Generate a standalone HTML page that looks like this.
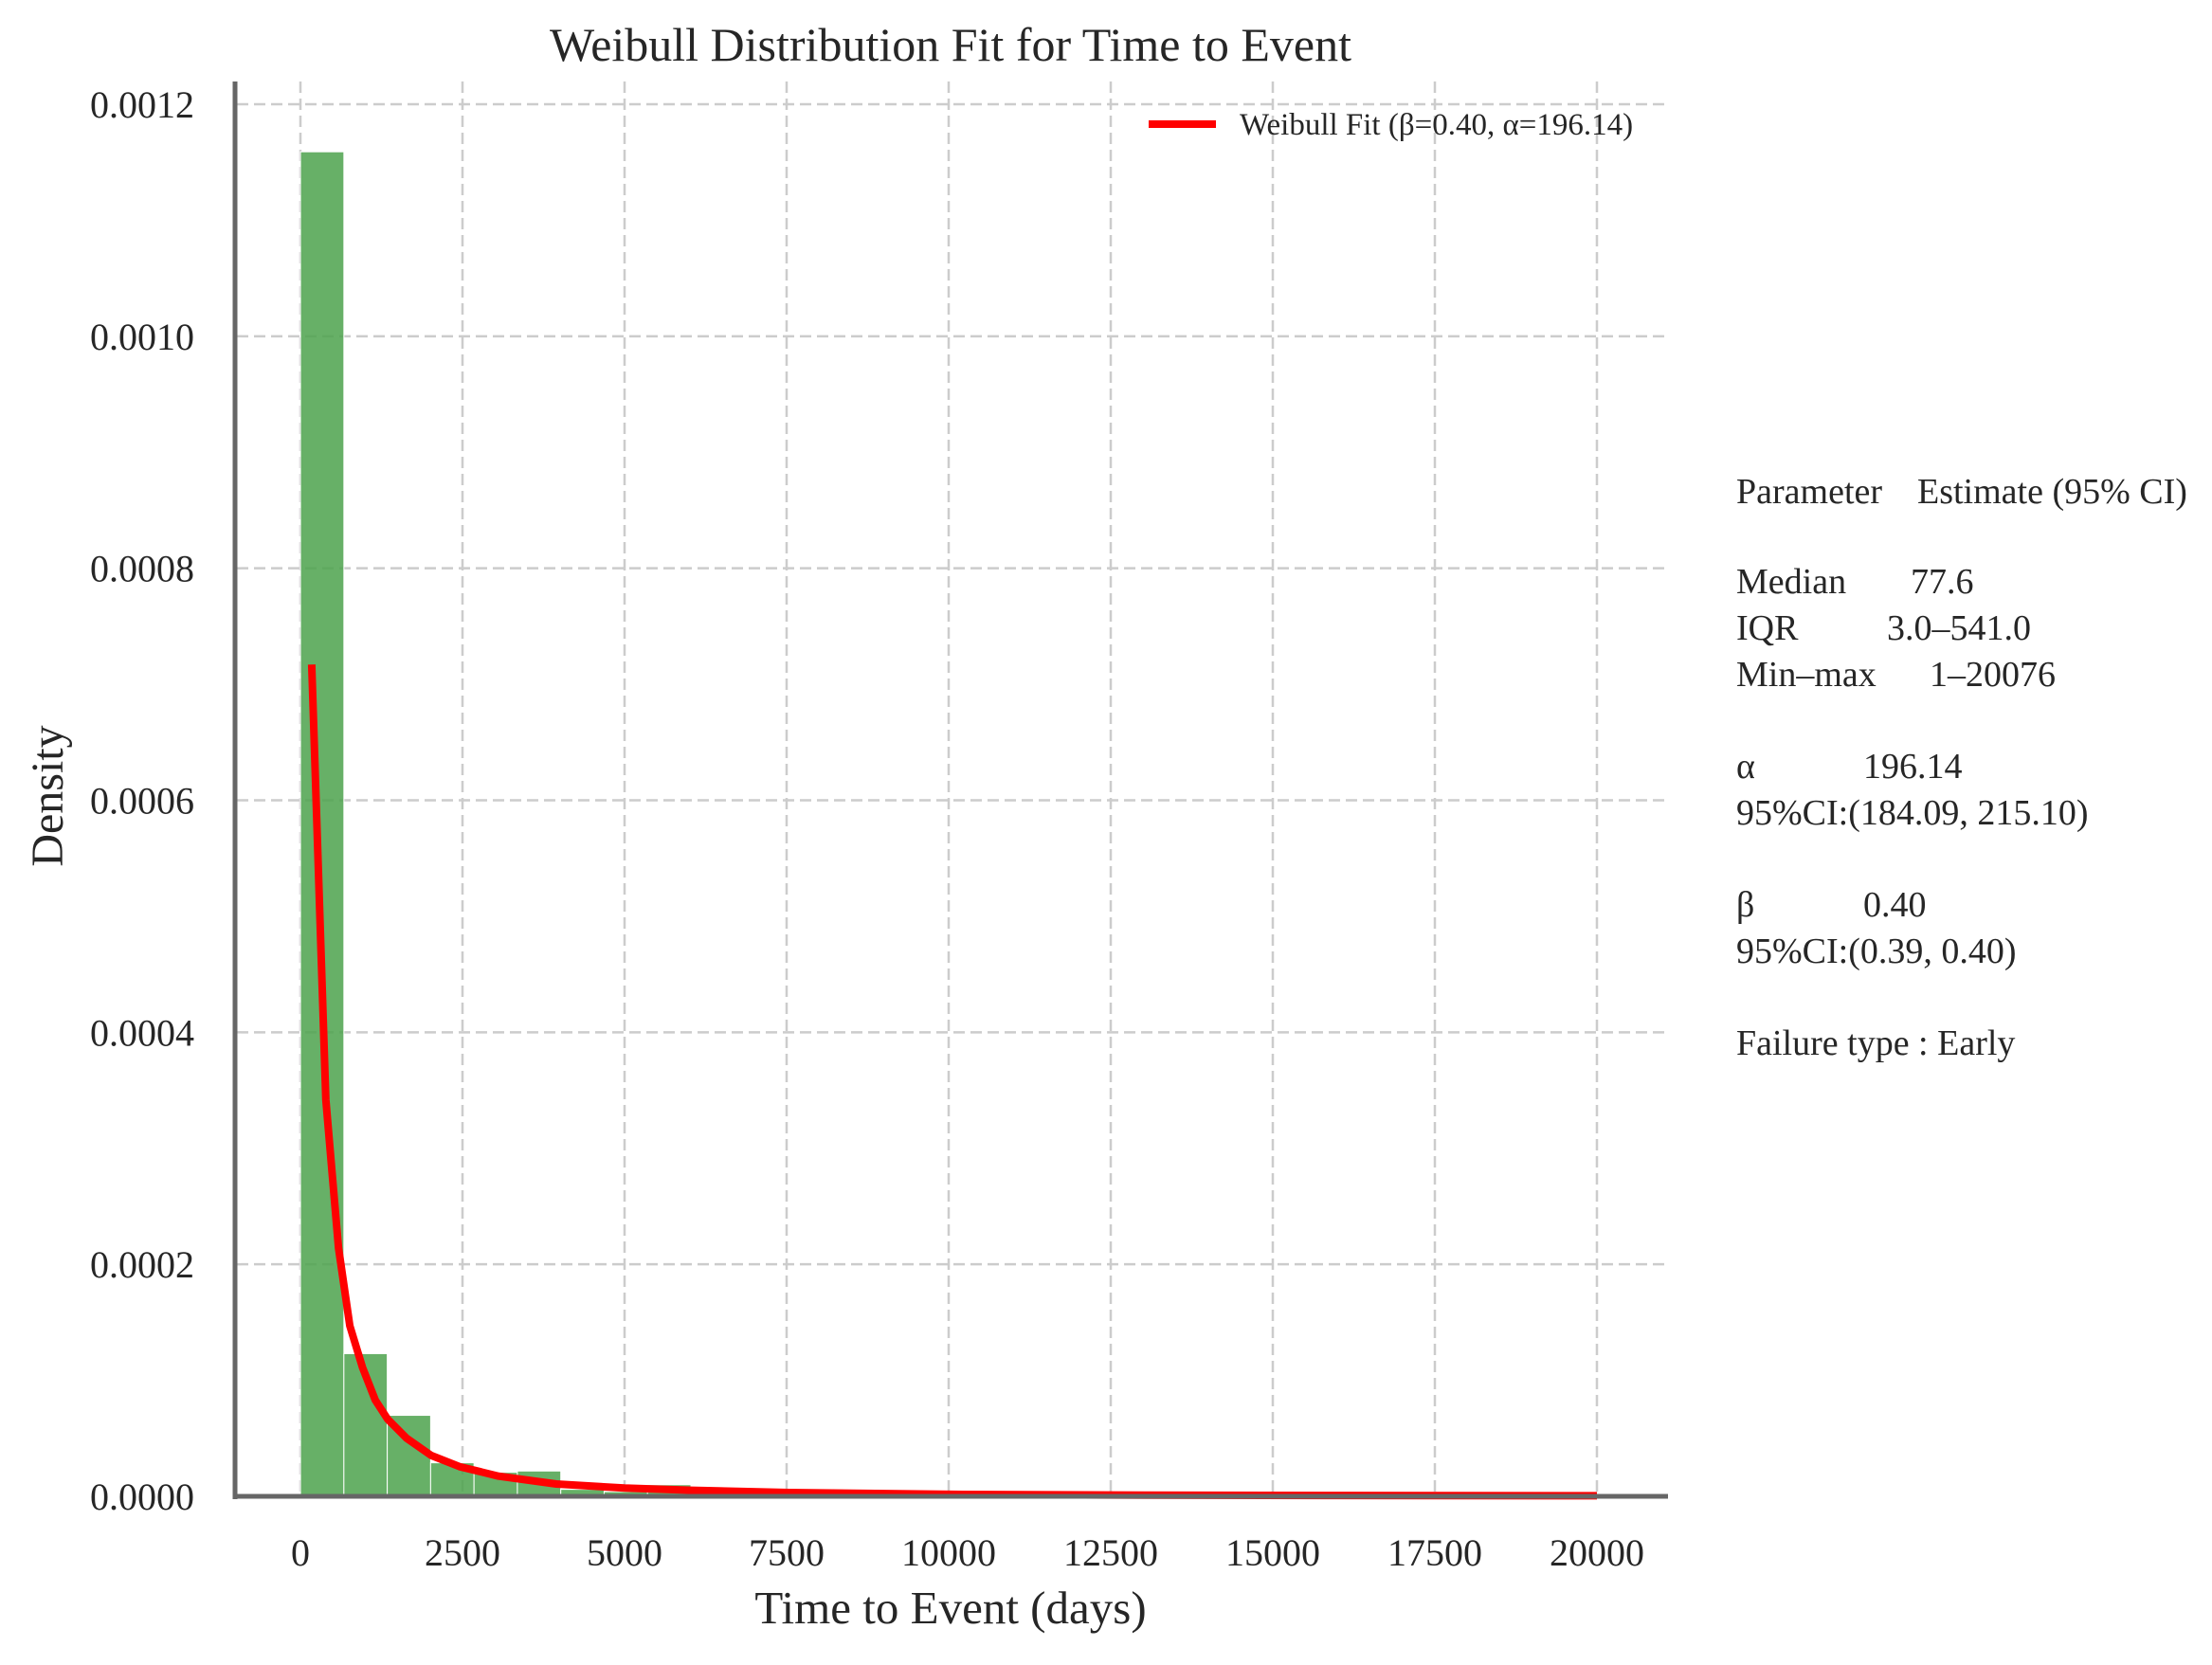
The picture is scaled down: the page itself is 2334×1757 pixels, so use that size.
<!DOCTYPE html>
<html><head><meta charset="utf-8"><style>
html,body{margin:0;padding:0;background:#fff;}
svg text{font-family:"Liberation Serif",serif;fill:#262626;}
</style></head><body>
<svg id="chart" width="2334" height="1752" viewBox="0 0 2334 1752" xmlns="http://www.w3.org/2000/svg">
<g id="grid"></g>
<g id="bars"></g>
<path id="curve" fill="none" stroke="#ff0000" stroke-width="8" stroke-linejoin="round"/>
<line x1="248" y1="86" x2="248" y2="1582" stroke="#666" stroke-width="5"/>
<line x1="246" y1="1579" x2="1760" y2="1579" stroke="#666" stroke-width="5"/>
<g id="yticks"></g>
<g id="xticks"></g>
<text x="1003" y="64" font-size="50" text-anchor="middle">Weibull Distribution Fit for Time to Event</text>
<text x="1003" y="1713" font-size="49" text-anchor="middle">Time to Event (days)</text>
<text transform="translate(66,840) rotate(-90)" font-size="48" text-anchor="middle">Density</text>
<g>
<line x1="1212" y1="131" x2="1283" y2="131" stroke="#ff0000" stroke-width="8"/>
<text x="1308" y="142" font-size="33">Weibull Fit (β=0.40, α=196.14)</text>
</g>
<g font-size="38">
<text x="1832" y="531">Parameter</text>
<text x="2023" y="531">Estimate (95% CI)</text>
<text x="1832" y="626">Median</text>
<text x="2016" y="626">77.6</text>
<text x="1832" y="675">IQR</text>
<text x="1991" y="675">3.0–541.0</text>
<text x="1832" y="724">Min–max</text>
<text x="2036" y="724">1–20076</text>
<text x="1832" y="821">α</text>
<text x="1966" y="821">196.14</text>
<text x="1832" y="870">95%CI:(184.09, 215.10)</text>
<text x="1832" y="967">β</text>
<text x="1966" y="967">0.40</text>
<text x="1832" y="1016">95%CI:(0.39, 0.40)</text>
<text x="1832" y="1113">Failure type : Early</text>
</g>
</svg>
<script>
const binStart = 1;
const binWidth = 669.17;
const binDensities = [0.001159,0.000123,0.0000698,0.0000289,0.0000207,0.0000218,0.000006,0.000004,0.00001,0.000003,0.000002,0.000002,0.000001,0.000001,0.0000008,0.0000008,0.0000005,0.0000005,0.0000005,0.0000004,0.0000003,0.0000003,0.0000003,0.0000003,0.0000002,0.0000002,0.0000002,0.0000002,0.0000002,0.0000002];
const curveDays = [174,392,587,761,957,1155,1345,1637,2018,2456,3056,3947,5000,6038,7529,10219,13000,16000,20000];
const curveDensity = [0.000717,0.000342,0.000214,0.000147,0.000111,0.0000829,0.0000665,0.0000501,0.0000352,0.0000256,0.0000174,0.0000106,0.0000071,0.0000052,0.0000033,0.0000016,0.0000010,0.0000007,0.0000005];
const xTicks = [0,2500,5000,7500,10000,12500,15000,17500,20000];
const yTicks = [0,0.0002,0.0004,0.0006,0.0008,0.0010,0.0012];
const yTickLabels = ["0.0000","0.0002","0.0004","0.0006","0.0008","0.0010","0.0012"];

const NS = "http://www.w3.org/2000/svg";
function xs(v){ return 317 + (v/20000)*1368; }
function ys(v){ return 1579 - (v/0.0012)*1469; }
function mk(tag, attrs, parent){ const e=document.createElementNS(NS,tag); for(const k in attrs) e.setAttribute(k,attrs[k]); parent.appendChild(e); return e; }

const grid=document.getElementById('grid');
yTicks.forEach((t,i)=>{
  if(i===0) return;
  const l=mk('line',{x1:250,x2:1759,y1:ys(t),y2:ys(t),stroke:'#cccccc','stroke-width':2.5,'stroke-dasharray':'12,6'},grid);
  
  
});
xTicks.forEach(t=>{
  const l=mk('line',{x1:xs(t),x2:xs(t),y1:86,y2:1579,stroke:'#cccccc','stroke-width':2.5,'stroke-dasharray':'12,6'},grid);
  
  
});
const bars=document.getElementById('bars');
binDensities.forEach((d,i)=>{
  const x0=xs(binStart+i*binWidth), x1=xs(binStart+(i+1)*binWidth);
  const r=mk('rect',{x:x0,y:ys(d),width:x1-x0,height:ys(0)-ys(d),fill:'#4ca24c','fill-opacity':0.85,stroke:'#ffffff','stroke-width':1},bars);
  
  
});
document.getElementById('curve').setAttribute('d', curveDays.map((d,i)=>(i?'L':'M')+xs(d).toFixed(1)+','+ys(curveDensity[i]).toFixed(1)).join(' '));
const yt=document.getElementById('yticks');
yTicks.forEach((t,i)=>{
  const e=mk('text',{x:205,y:ys(t)+14,'font-size':40,'text-anchor':'end'},yt);
  e.textContent=yTickLabels[i];
  
  
});
const xt=document.getElementById('xticks');
xTicks.forEach(t=>{
  const e=mk('text',{x:xs(t),y:1652,'font-size':40,'text-anchor':'middle'},xt);
  e.textContent=String(t);
  
  
});
</script>
</body></html>
